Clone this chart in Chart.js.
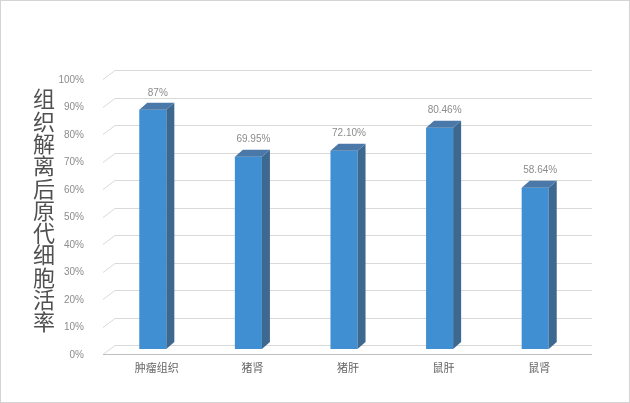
<!DOCTYPE html>
<html>
<head>
<meta charset="utf-8">
<script src="https://cdn.jsdelivr.net/npm/chart.js@4"></script>
<style>
  html, body { margin: 0; padding: 0; background: #fff; }
  #wrap { width: 630px; height: 403px; position: relative; }
</style>
</head>
<body>
<div id="wrap"><canvas id="chartViab" width="630" height="403"></canvas></div>
<script>
// 组织解离后原代细胞活率 - 柱状图(伪3D)
const categorias = ['肿瘤组织', '猪肾', '猪肝', '鼠肝', '鼠肾'];
const valores = [87, 69.95, 72.10, 80.46, 58.64];
const rotulos = ['87%', '69.95%', '72.10%', '80.46%', '58.64%'];
const tituloY = '组织解离后原代细胞活率';
const ticksY = [0, 10, 20, 30, 40, 50, 60, 70, 80, 90, 100];

const DX = 8, DY = 7; // profundidade do efeito 3D

// grade "parede de fundo" + bordas
const fundo = {
    id: 'fundo',
    beforeDatasetsDraw(chart) {
        const ctx = chart.ctx, y = chart.scales.y, area = chart.chartArea;
        ctx.save();
        ctx.strokeStyle = '#d9d9d9';
        ctx.lineWidth = 1;
        ticksY.forEach(v => {
            const py = Math.round(y.getPixelForValue(v));
            ctx.beginPath();
            ctx.moveTo(area.left - 2, py + 5.5);
            ctx.lineTo(area.left + 10, py - 3.5);
            ctx.lineTo(area.right + 9, py - 3.5);
            ctx.stroke();
        });
        ctx.strokeStyle = '#bfbfbf';
        ctx.beginPath();
        ctx.moveTo(area.left - 2, Math.round(y.getPixelForValue(0)) + 5.5);
        ctx.lineTo(area.right + 9, Math.round(y.getPixelForValue(0)) + 5.5);
        ctx.stroke();
        ctx.restore();
    },
    afterDraw(chart) {
        const ctx = chart.ctx;
        ctx.save();
        ctx.strokeStyle = '#d4d4d4';
        ctx.strokeRect(0.5, 0.5, chart.width - 1, chart.height - 1);
        // titulo vertical, um caractere por linha
        ctx.fillStyle = '#505050';
        ctx.font = '22px "Noto Sans CJK SC"';
        ctx.textAlign = 'center';
        ctx.textBaseline = 'middle';
        [...tituloY].forEach((c, i) => ctx.fillText(c, 44, 99 + i * 22.3));
        ctx.restore();
    }
};

// faces lateral e superior das barras + rotulos
const barras3d = {
    id: 'barras3d',
    afterDatasetsDraw(chart) {
        const ctx = chart.ctx;
        const meta = chart.getDatasetMeta(0);
        ctx.save();
        meta.data.forEach((bar, i) => {
            const l = bar.x - bar.width / 2, r = bar.x + bar.width / 2;
            const t = bar.y, b = bar.base;
            ctx.fillStyle = '#3d6890';
            ctx.beginPath();
            ctx.moveTo(r, t); ctx.lineTo(r + DX, t - DY);
            ctx.lineTo(r + DX, b - DY); ctx.lineTo(r, b);
            ctx.closePath(); ctx.fill();
            ctx.fillStyle = '#4a78a9';
            ctx.beginPath();
            ctx.moveTo(l, t); ctx.lineTo(l + DX, t - DY);
            ctx.lineTo(r + DX, t - DY); ctx.lineTo(r, t);
            ctx.closePath(); ctx.fill();
            ctx.fillStyle = '#8c8c8c';
            ctx.font = '10px "Liberation Sans"';
            ctx.textAlign = 'center';
            ctx.textBaseline = 'middle';
            ctx.fillText(rotulos[i], bar.x + 5, t - 17);
        });
        ctx.restore();
    }
};

function initChart() {
    const ctx = document.getElementById('chartViab').getContext('2d');
    new Chart(ctx, {
        type: 'bar',
        data: {
            labels: categorias,
            datasets: [{
                label: '活率',
                data: valores,
                backgroundColor: '#3f8fd2',
                barPercentage: 0.283,
                categoryPercentage: 1
            }]
        },
        options: {
            responsive: false,
            animation: false,
            layout: { padding: { top: 74, right: 47, left: 0, bottom: 0 } },
            plugins: {
                legend: { display: false },
                tooltip: { enabled: false }
            },
            scales: {
                y: {
                    min: 0, max: 100,
                    afterFit(s) { s.width = 105; },
                    afterBuildTicks(s) { s.ticks = ticksY.map(v => ({ value: v })); },
                    grid: { display: false },
                    border: { display: false },
                    ticks: {
                        padding: 13,
                        labelOffset: 6,
                        color: '#8c8c8c',
                        font: { family: 'Liberation Sans', size: 10 },
                        callback: v => v + '%'
                    }
                },
                x: {
                    afterFit(s) { s.height = 54; },
                    grid: { display: false },
                    border: { display: false },
                    ticks: {
                        padding: 4,
                        labelOffset: 4,
                        maxRotation: 0,
                        color: '#666',
                        font: { family: 'Noto Sans CJK SC', size: 11 }
                    }
                }
            }
        },
        plugins: [fundo, barras3d]
    });
}

document.addEventListener('DOMContentLoaded', initChart);
</script>
</body>
</html>
